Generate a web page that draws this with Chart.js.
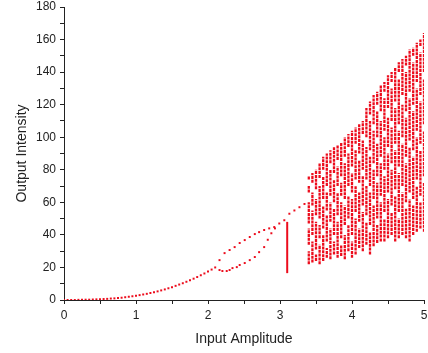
<!DOCTYPE html>
<html>
<head>
<meta charset="utf-8">
<script src="https://cdn.jsdelivr.net/npm/chart.js@4"></script>
<style>
  html, body { margin: 0; padding: 0; background: #fff; }
  #wrap { width: 428px; height: 353px; }
</style>
</head>
<body>
<div id="wrap"><canvas id="chart" width="428" height="353"></canvas></div>
<script>
// smooth single branch, 0 .. 2.1
const curveX = [0,0.05,0.1,0.15,0.2,0.25,0.3,0.35,0.4,0.45,0.5,0.55,0.6,0.65,0.7,0.75,0.8,0.85,0.9,0.95,1.0,1.05,1.1,1.15,1.2,1.25,1.3,1.35,1.4,1.45,1.5,1.55,1.6,1.65,1.7,1.75,1.8,1.85,1.9,1.95,2.0,2.05,2.1];
const curveY = [0,0,0,0,0.1,0.1,0.2,0.2,0.3,0.4,0.5,0.6,0.7,0.9,1.0,1.2,1.4,1.7,2.0,2.3,2.6,3.0,3.4,3.8,4.3,4.8,5.3,5.9,6.5,7.2,7.9,8.7,9.5,10.3,11.2,12.1,13.1,14.1,15.2,16.3,17.5,18.7,20.0];

// period-2 upper branch (continues as single branch up to the chaos)
const upperX = [2.16,2.23,2.30,2.37,2.44,2.51,2.58,2.65,2.71,2.78,2.85,2.92,2.99,3.06,3.13,3.20,3.27,3.34];
const upperY = [24.5,28.8,30.7,32.5,35.0,36.8,38.7,40.5,41.7,43.0,44.0,44.8,47.0,49.0,53.0,55.0,57.0,59.0];

// period-2 lower branch
const lowerX = [2.16,2.20,2.26,2.30,2.34,2.40,2.44,2.51,2.58,2.65,2.71,2.78,2.83,2.88,2.93];
const lowerY = [18.4,17.8,17.8,18.4,19.6,20.2,21.5,22.7,24.5,26.4,29.4,32.5,37.0,41.0,44.0];

// spike at 3.1
const spikeX = [3.1];
const spikeSegs = [[[16.5, 48]]];

// chaotic region: column x and [low, high] runs of points
const chaosX = [3.40,3.45,3.50,3.55,3.60,3.65,3.70,3.75,3.80,3.85,3.90,3.95,4.00,4.05,4.10,4.15,4.20,4.25,4.30,4.35,4.40,4.45,4.50,4.55,4.60,4.65,4.70,4.75,4.80,4.85,4.90,4.95,5.00];
const chaosSegs = [
  [[22,30],[34,44],[47,60],[66,70],[74,76]],
  [[23,36],[40,55],[58,66],[72,78]],
  [[24,28],[31,48],[52,62],[68,80]],
  [[22,34],[38,46],[50,70],[75,84]],
  [[24,40],[44,58],[62,76],[80,88]],
  [[26,32],[36,52],[55,66],[70,90]],
  [[25,44],[48,60],[64,80],[84,92]],
  [[28,36],[40,56],[60,74],[78,94]],
  [[26,48],[52,66],[70,82],[86,95]],
  [[27,34],[38,60],[64,72],[76,97]],
  [[25,40],[46,58],[62,84],[88,100]],
  [[30,46],[50,64],[70,90],[94,102]],
  [[26,36],[40,62],[66,78],[82,104]],
  [[28,50],[54,70],[74,92],[96,106]],
  [[32,44],[48,66],[72,86],[90,108]],
  [[30,54],[58,76],[80,98],[102,110]],
  [[34,48],[52,70],[74,94],[100,118]],
  [[28,42],[46,66],[70,88],[92,110],[114,122]],
  [[33,58],[62,80],[84,104],[108,126]],
  [[35,46],[50,72],[76,96],[100,116],[120,128]],
  [[36,60],[64,84],[88,110],[116,132]],
  [[36,50],[54,76],[80,100],[104,124],[128,134]],
  [[38,62],[66,90],[94,112],[118,138]],
  [[40,54],[58,80],[84,106],[110,130],[134,140]],
  [[36,64],[68,92],[96,118],[122,143]],
  [[38,50],[54,78],[82,104],[108,136],[140,146]],
  [[40,66],[70,96],[100,120],[126,148]],
  [[38,56],[60,84],[88,112],[116,140],[144,150]],
  [[36,62],[66,94],[98,124],[128,154]],
  [[40,58],[62,88],[92,116],[120,146],[150,155]],
  [[42,70],[74,100],[104,130],[134,158]],
  [[44,60],[64,92],[96,122],[126,152],[156,160]],
  [[42,72],[76,104],[108,136],[140,164]]
];

const xTickLabels = ['0','1','2','3','4','5'];
const yTickLabels = ['0','20','40','60','80','100','120','140','160','180'];

const red = 'rgb(236,12,28)';

function toPoints(xs, ys) {
  return xs.map((x, i) => ({x: x, y: ys[i]}));
}
// runs of a column become line pieces, broken by null
function toRuns(xs, segs) {
  const pts = [];
  xs.forEach((x, i) => {
    segs[i].forEach(s => {
      pts.push({x: x, y: s[0]});
      pts.push({x: x, y: s[1]});
      pts.push({x: x, y: null});
    });
  });
  return pts;
}

const dotStyle = {
  showLine: false,
  pointStyle: 'rect',
  pointRadius: 1.4,
  pointBackgroundColor: red,
  pointBorderWidth: 0
};

new Chart(document.getElementById('chart').getContext('2d'), {
  type: 'scatter',
  data: {
    datasets: [
      Object.assign({ data: toPoints(curveX, curveY) }, dotStyle),
      Object.assign({ data: toPoints(upperX, upperY) }, dotStyle),
      Object.assign({ data: toPoints(lowerX, lowerY) }, dotStyle),
      {
        data: toRuns(spikeX, spikeSegs),
        showLine: true, spanGaps: false, pointRadius: 0,
        borderColor: red, borderWidth: 2
      },
      {
        data: toRuns(chaosX, chaosSegs),
        showLine: true, spanGaps: false, pointRadius: 0,
        borderColor: red, borderWidth: 2.3, borderDash: [3, 0.8]
      }
    ]
  },
  options: {
    responsive: false,
    animation: false,
    layout: { padding: 0 },
    plugins: { legend: { display: false }, tooltip: { enabled: false } },
    scales: {
      x: {
        type: 'linear', min: 0, max: 5,
        afterFit: s => { s.height = 53; s.paddingRight = 3; },
        border: { display: true, color: '#222', width: 1 },
        grid: { drawOnChartArea: false, drawTicks: true, tickLength: 4, color: '#222' },
        ticks: {
          stepSize: 0.5, autoSkip: false, maxRotation: 0, padding: 4,
          color: '#222', font: { family: 'Liberation Sans, Arial', size: 12 },
          callback: v => Number.isInteger(v) ? xTickLabels[v] : ''
        },
        title: {
          display: true, text: 'Input Amplitude', color: '#222',
          font: { family: 'Liberation Sans, Arial', size: 14 },
          padding: { top: 4, bottom: 5 }
        }
      },
      y: {
        type: 'linear', min: 0, max: 180,
        afterFit: s => { s.width = 64; s.paddingTop = 7; },
        border: { display: true, color: '#222', width: 1 },
        grid: { drawOnChartArea: false, drawTicks: true, tickLength: 4, color: '#222' },
        ticks: {
          stepSize: 10, autoSkip: false, padding: 4,
          color: '#222', font: { family: 'Liberation Sans, Arial', size: 12 },
          callback: v => v % 20 === 0 ? yTickLabels[v / 20] : ''
        },
        title: {
          display: true, text: 'Output Intensity', color: '#222',
          font: { family: 'Liberation Sans, Arial', size: 14 },
          padding: { top: 14, bottom: 0 }
        }
      }
    }
  }
});
</script>
</body>
</html>
